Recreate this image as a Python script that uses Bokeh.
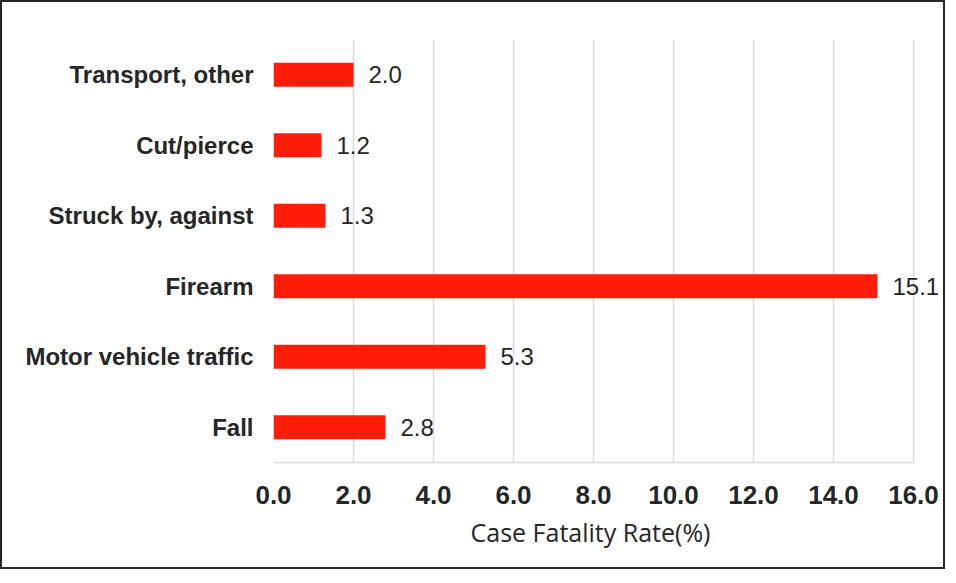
from bokeh.plotting import figure
from bokeh.models import ColumnDataSource, FactorRange, Range1d, FixedTicker, NumeralTickFormatter, LabelSet, Title
from bokeh.core.properties import value
from bokeh.embed import file_html
from bokeh.resources import INLINE

categories = ["Fall", "Motor vehicle traffic", "Firearm", "Struck by, against", "Cut/pierce", "Transport, other"]
values = [2.8, 5.3, 15.1, 1.3, 1.2, 2.0]
x_ticks = [0, 2, 4, 6, 8, 10, 12, 14, 16]
x_title = "Case Fatality Rate(%)"

x_max = 16.7
px_per_unit = 40
src = ColumnDataSource(dict(cat=categories, val=values, lab=["%.1f" % v for v in values]))

p = figure(y_range=FactorRange(factors=categories), x_range=Range1d(0, x_max),
           frame_width=int(round(x_max * px_per_unit)), frame_height=423,
           min_border_left=271, min_border_top=37, min_border_right=2, min_border_bottom=105,
           output_backend="svg", toolbar_location=None)
p.styles = {"border": "2px solid #262626"}
p.outline_line_color = None
p.background_fill_color = "white"
p.border_fill_color = "white"

p.hbar(y="cat", right="val", left=0, height=0.34, source=src, color="#FF1C08", line_color=None)

labels = LabelSet(x="val", y="cat", text="lab", source=src, x_offset=15, y_offset=0,
                  text_font=value("Liberation Sans"), text_font_size="24px", text_color="#262626",
                  text_baseline="middle", text_align="left")
p.add_layout(labels)

p.xgrid.grid_line_color = "#d9d9d9"
p.xgrid.grid_line_width = 1.5
p.ygrid.grid_line_color = None

p.xaxis.ticker = FixedTicker(ticks=x_ticks)
p.xaxis.bounds = (x_ticks[0], x_ticks[-1])
p.xaxis.formatter = NumeralTickFormatter(format="0.0")
p.xaxis.axis_line_color = "#d9d9d9"
p.xaxis.axis_line_width = 1.5
p.xaxis.major_tick_line_color = None
p.xaxis.minor_tick_line_color = None
p.xaxis.major_label_text_font = "Liberation Sans"
p.xaxis.major_label_text_font_style = "bold"
p.xaxis.major_label_text_font_size = "26px"
p.xaxis.major_label_text_color = "#262626"
p.xaxis.major_label_standoff = 17

t = Title(text=x_title, align="left", offset=197, text_font="Open Sans",
          text_font_style="normal", text_font_size="25px", text_color="#262626", standoff=12)
p.add_layout(t, "below")

p.yaxis.axis_line_color = None
p.yaxis.major_tick_line_color = None
p.yaxis.minor_tick_line_color = None
p.yaxis.major_label_text_font = "Liberation Sans"
p.yaxis.major_label_text_font_style = "bold"
p.yaxis.major_label_text_font_size = "24px"
p.yaxis.major_label_text_color = "#262626"
p.yaxis.major_label_standoff = 14

open("out.html", "w").write(file_html(p, INLINE))
